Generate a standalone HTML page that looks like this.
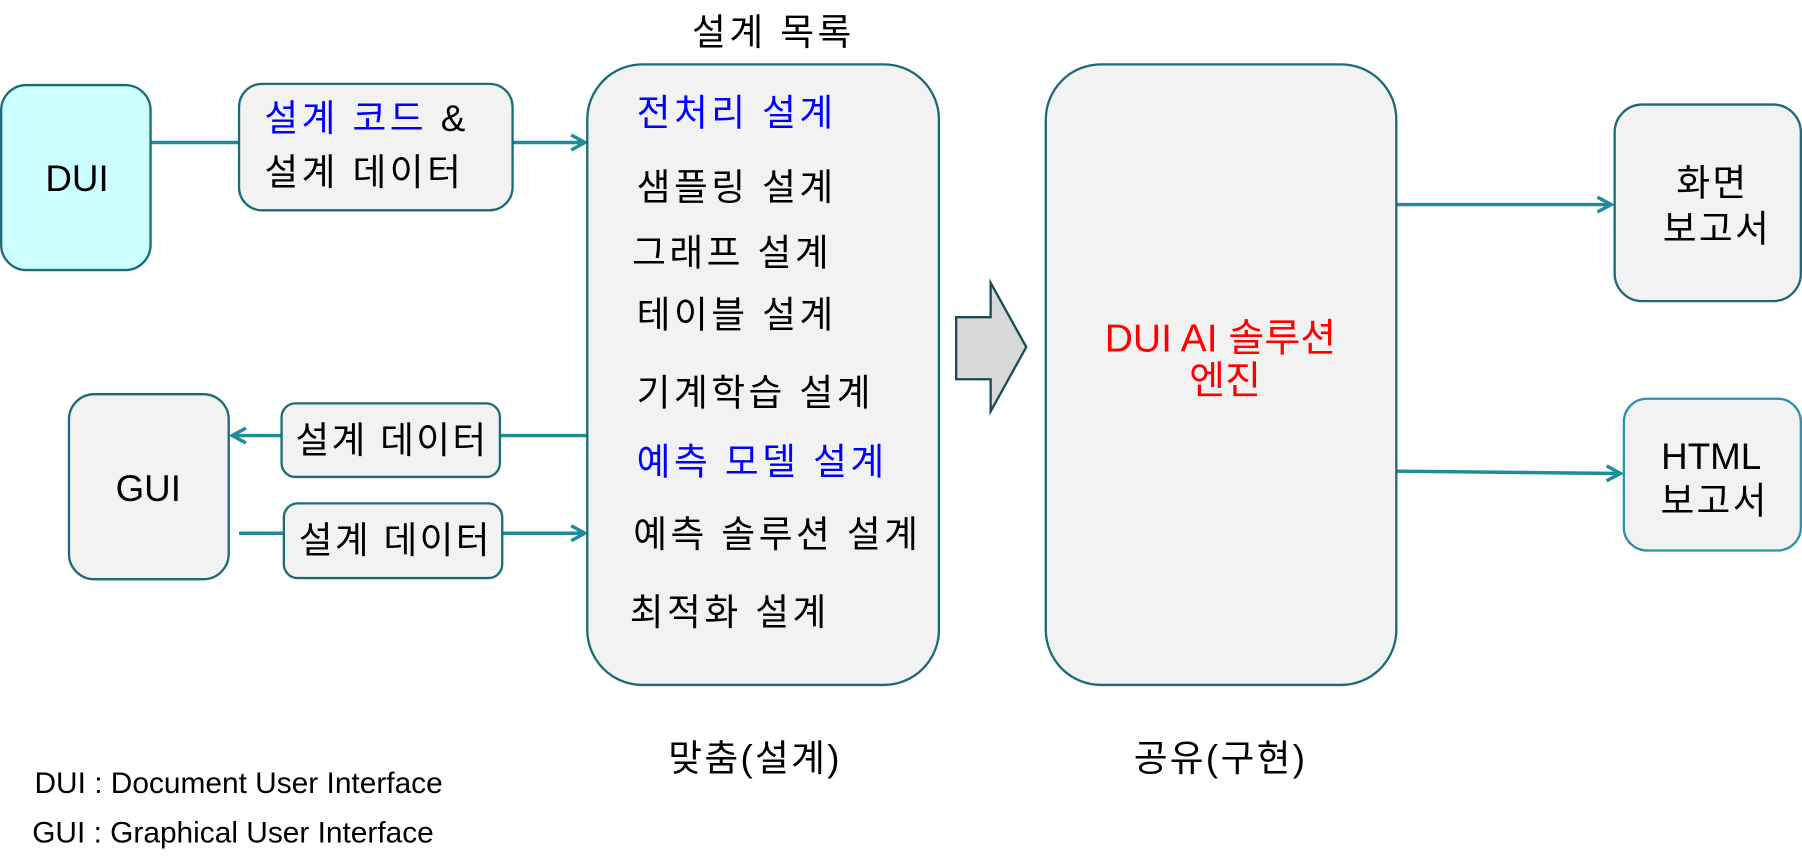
<!DOCTYPE html>
<html><head><meta charset="utf-8"><style>
html,body{margin:0;padding:0;background:#fff;}
svg{display:block;}
text{font-family:"Liberation Sans","Noto Sans CJK KR",sans-serif;fill:#000;}
</style></head><body>
<svg width="1802" height="868" viewBox="0 0 1568 755.3" xmlns="http://www.w3.org/2000/svg">
<defs>
<marker id="a" markerWidth="16" markerHeight="16" refX="13" refY="8" orient="auto" markerUnits="userSpaceOnUse">
<path d="M1,1.5 L13,8 L1,14.5" fill="none" stroke="#1f8c9c" stroke-width="3"/>
</marker>
</defs>
<g stroke="#1f8c9c" stroke-width="3" fill="none">
<line x1="131" y1="124" x2="208" y2="124"/>
<line x1="446" y1="124" x2="509" y2="124" marker-end="url(#a)"/>
<line x1="511" y1="379" x2="435" y2="379"/>
<line x1="245" y1="379" x2="202" y2="379" marker-end="url(#a)"/>
<line x1="208" y1="464" x2="247" y2="464"/>
<line x1="437" y1="464" x2="509" y2="464" marker-end="url(#a)"/>
<line x1="1215" y1="178" x2="1402" y2="178" marker-end="url(#a)"/>
<line x1="1215" y1="410" x2="1410" y2="412" marker-end="url(#a)"/>
</g>
<g stroke="#1a6b78" stroke-width="2">
<rect x="1" y="74" width="130" height="161" rx="22" fill="#ccffff"/>
<rect x="208" y="73" width="238" height="110" rx="20" fill="#f2f2f2"/>
<rect x="511" y="56" width="306" height="540" rx="48" fill="#f2f2f2"/>
<rect x="910" y="56" width="305" height="540" rx="48" fill="#f2f2f2"/>
<rect x="1405" y="91" width="162" height="171" rx="24" fill="#f2f2f2"/>
<rect x="1413" y="347" width="154" height="132" rx="20" fill="#f2f2f2" stroke="#2a93a8"/>
<rect x="60" y="343" width="139" height="161" rx="22" fill="#f2f2f2"/>
<rect x="245" y="351" width="190" height="64" rx="12" fill="#f2f2f2"/>
<rect x="247" y="438" width="190" height="65" rx="12" fill="#f2f2f2"/>
<polygon points="832,276 862,276 862,246 893,302 862,358 862,330 832,330" fill="#d9d9d9" stroke="#1a4a55"/>
</g>
<g font-size="32">
<text x="67" y="166" text-anchor="middle">DUI</text>
<text x="129" y="436" text-anchor="middle">GUI</text>
<text x="230" y="114" letter-spacing="3"><tspan style="fill:#0000ff">설계 코드</tspan> &amp;</text>
<text x="230" y="161" letter-spacing="3">설계  데이터</text>
<text x="257" y="394" letter-spacing="2">설계 데이터</text>
<text x="260" y="481" letter-spacing="2">설계 데이터</text>
<text x="673" y="39" text-anchor="middle" letter-spacing="3">설계 목록</text>
<text x="554" y="109" letter-spacing="3" style="fill:#0000ff">전처리 설계</text>
<text x="554" y="174" letter-spacing="3">샘플링 설계</text>
<text x="550" y="231" letter-spacing="3">그래프 설계</text>
<text x="554" y="285" letter-spacing="3">테이블 설계</text>
<text x="554" y="353" letter-spacing="3">기계학습 설계</text>
<text x="554" y="413" letter-spacing="3" style="fill:#0000ff">예측 모델 설계</text>
<text x="551" y="476" letter-spacing="3">예측 솔루션 설계</text>
<text x="548" y="544" letter-spacing="3">최적화 설계</text>
<text x="1062" y="306" text-anchor="middle" font-size="34" style="fill:#ff0000">DUI AI 솔루션</text>
<text x="1066" y="343" text-anchor="middle" font-size="34" style="fill:#ff0000">엔진</text>
<text x="1490" y="170" text-anchor="middle" letter-spacing="2">화면</text>
<text x="1494" y="210" text-anchor="middle" letter-spacing="2">보고서</text>
<text x="1489" y="408" text-anchor="middle">HTML</text>
<text x="1492" y="447" text-anchor="middle" letter-spacing="2">보고서</text>
<text x="657" y="671" text-anchor="middle" letter-spacing="2">맞춤(설계)</text>
<text x="1062" y="671" text-anchor="middle" letter-spacing="2">공유(구현)</text>
</g>
<g font-size="26">
<text x="30" y="690">DUI : Document User Interface</text>
<text x="28" y="733">GUI : Graphical User Interface</text>
</g>
</svg>
</body></html>
